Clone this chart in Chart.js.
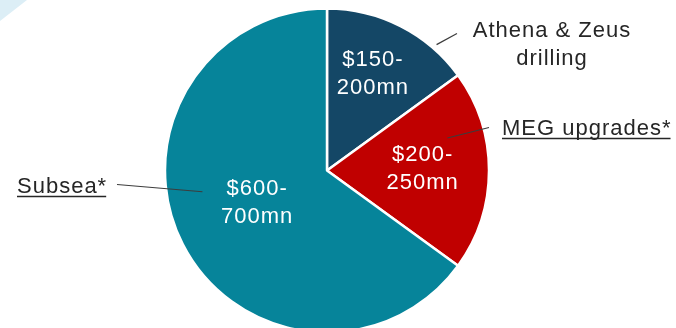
<!DOCTYPE html>
<html>
<head>
<meta charset="utf-8">
<script src="https://cdn.jsdelivr.net/npm/chart.js@4"></script>
<style>
  html, body { margin: 0; padding: 0; background: #fff; }
  #wrap { position: relative; width: 676px; height: 328px; overflow: hidden; }
  #corner { position: absolute; left: 0; top: 0; width: 27px; height: 21px; background: #dceef6;
            clip-path: polygon(0 0, 100% 0, 0 100%); }
  canvas { position: absolute; left: 0; top: 0; }
</style>
</head>
<body>
<div id="wrap">
  <div id="corner"></div>
  <canvas id="capex_split" width="676" height="328"></canvas>
</div>
<script>
// Spend split (share of total, %) and the stated $mn range per segment
const segments = ["Athena & Zeus drilling", "MEG upgrades*", "Subsea*"];
const sharePct = [15, 20, 65];
const rangeLow = [150, 200, 600];
const rangeHigh = [200, 250, 700];
const calloutLines = [["Athena & Zeus", "drilling"], ["MEG upgrades*"], ["Subsea*"]];

const sliceColors = ["#144766", "#c00000", "#06849a"];
const FONT = "22px 'Liberation Sans', Arial, sans-serif";
const TEXT_COL = "#262626";

// where the value text sits inside each slice: t = fraction along the arc, r = fraction of radius
const valuePos = [
    { t: 0.47, r: 0.66 },
    { t: 0.49, r: 0.59 },
    { t: 0.51, r: 0.475 }
];

// leader lines: start on the slice (t, r), end relative to pie centre; then the text block
const callouts = [
    { t: 0.76, r: 1.03, end: [130, -137], align: "center", x: 552, baselines: [37, 65], underline: false },
    { t: 0.29, r: 0.77, end: [162, -43], align: "left", x: 502, baselines: [135], underline: true },
    { t: 0.574, r: 0.78, end: [-210, 14], align: "left", x: 17, baselines: [193], underline: true }
];

const labelPlugin = {
    id: "sliceLabels",
    afterDatasetsDraw(chart) {
        const ctx = chart.ctx;
        const meta = chart.getDatasetMeta(0);
        ctx.save();
        ctx.font = FONT;
        ctx.letterSpacing = "1px";

        meta.data.forEach((arc, i) => {
            const { x, y, startAngle, endAngle, outerRadius } =
                arc.getProps(["x", "y", "startAngle", "endAngle", "outerRadius"], true);
            const span = endAngle - startAngle;

            // value range inside the slice
            const vp = valuePos[i];
            const va = startAngle + span * vp.t;
            const vx = x + Math.cos(va) * outerRadius * vp.r;
            const vy = y + Math.sin(va) * outerRadius * vp.r;
            ctx.fillStyle = "#ffffff";
            ctx.textAlign = "center";
            ctx.textBaseline = "middle";
            ctx.fillText(`$${rangeLow[i]}-`, vx, vy - 14);
            ctx.fillText(`${rangeHigh[i]}mn`, vx, vy + 14);

            // leader line out to the segment name
            const c = callouts[i];
            const ca = startAngle + span * c.t;
            ctx.beginPath();
            ctx.moveTo(x + Math.cos(ca) * outerRadius * c.r, y + Math.sin(ca) * outerRadius * c.r);
            ctx.lineTo(x + c.end[0], y + c.end[1]);
            ctx.strokeStyle = "#3c3c3c";
            ctx.lineWidth = 1.2;
            ctx.stroke();

            ctx.fillStyle = TEXT_COL;
            ctx.textAlign = c.align;
            ctx.textBaseline = "alphabetic";
            calloutLines[i].forEach((line, k) => {
                ctx.fillText(line, c.x, c.baselines[k]);
                if (c.underline) {
                    const w = ctx.measureText(line).width - 1;
                    ctx.beginPath();
                    ctx.moveTo(c.x, c.baselines[k] + 3.5);
                    ctx.lineTo(c.x + w, c.baselines[k] + 3.5);
                    ctx.strokeStyle = TEXT_COL;
                    ctx.lineWidth = 1.6;
                    ctx.stroke();
                }
            });
        });
        ctx.restore();
    }
};

new Chart(document.getElementById("capex_split"), {
    type: "pie",
    data: {
        labels: segments,
        datasets: [{
            data: sharePct,
            backgroundColor: sliceColors,
            borderColor: "#ffffff",
            borderWidth: 2.5,
            radius: 162,
            clip: false
        }]
    },
    options: {
        responsive: false,
        animation: false,
        layout: { padding: { left: 0, right: 22, top: 13, bottom: 0 } },
        plugins: {
            legend: { display: false },
            tooltip: { enabled: false }
        }
    },
    plugins: [labelPlugin]
});
</script>
</body>
</html>
